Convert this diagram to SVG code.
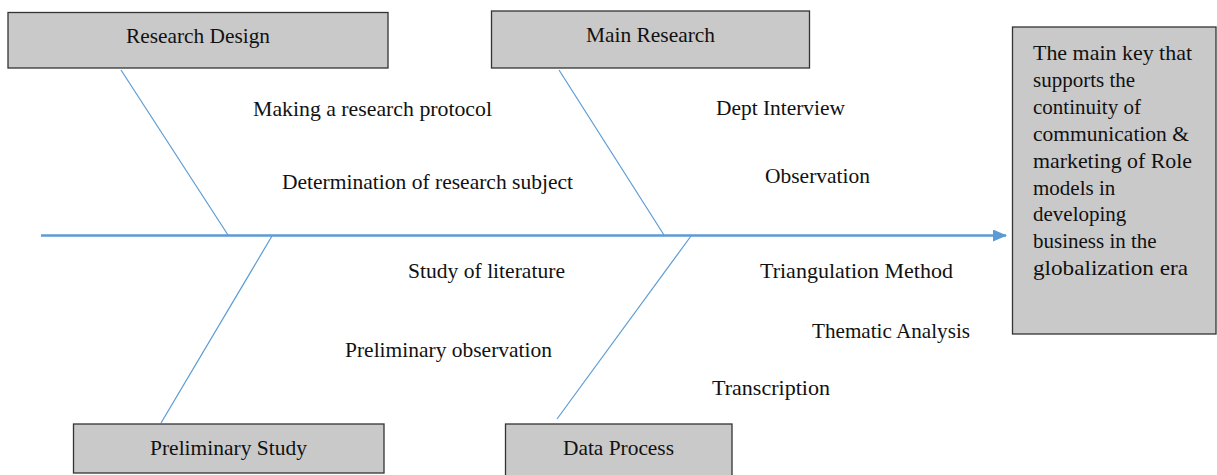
<svg xmlns="http://www.w3.org/2000/svg" width="1217" height="475" viewBox="0 0 1217 475">
<style>
.box{fill:#c9c9c9;stroke:#333;stroke-width:1.3}
.t{font-family:"Liberation Serif","Times New Roman",serif;font-size:21px;fill:#111}
.bone{stroke:#5b9bd5;stroke-width:1.2;fill:none}
.spine{stroke:#5b9bd5;stroke-width:2.5;fill:none}
</style>
<defs>
<marker id="ah" markerWidth="14" markerHeight="12" refX="13" refY="6" orient="auto" markerUnits="userSpaceOnUse">
<path d="M0,0 L14,6 L0,12 Z" fill="#5b9bd5"/>
</marker>
</defs>
<g id="connectors">
<line class="spine" x1="41" y1="235.5" x2="1006" y2="235.5" marker-end="url(#ah)"/>
<line class="bone" x1="121" y1="70" x2="228" y2="235"/>
<line class="bone" x1="559" y1="70" x2="664" y2="235"/>
<line class="bone" x1="272" y1="236" x2="161" y2="423"/>
<line class="bone" x1="691" y1="236" x2="557" y2="419"/>
</g>
<g id="research-design">
<rect class="box" x="8" y="12.5" width="380" height="55.5"/>
<text class="t" x="126" y="43" textLength="144" lengthAdjust="spacingAndGlyphs">Research Design</text>
</g>
<g id="main-research">
<rect class="box" x="491.5" y="11" width="318" height="57"/>
<text class="t" x="586" y="42" textLength="129" lengthAdjust="spacingAndGlyphs">Main Research</text>
</g>
<g id="preliminary-study">
<rect class="box" x="73.5" y="424" width="310.5" height="49"/>
<text class="t" x="150" y="455" textLength="157" lengthAdjust="spacingAndGlyphs">Preliminary Study</text>
</g>
<g id="data-process">
<rect class="box" x="505.5" y="424" width="226.5" height="60"/>
<text class="t" x="563" y="455" textLength="111" lengthAdjust="spacingAndGlyphs">Data Process</text>
</g>
<g id="outcome">
<rect class="box" x="1012.5" y="27" width="203.5" height="307"/>
<text class="t" x="1033" y="60" textLength="159" lengthAdjust="spacingAndGlyphs">The main key that</text>
<text class="t" x="1033" y="86.9">supports the</text>
<text class="t" x="1033" y="113.8">continuity of</text>
<text class="t" x="1033" y="140.7" textLength="156" lengthAdjust="spacingAndGlyphs">communication &amp;</text>
<text class="t" x="1033" y="167.6" textLength="159" lengthAdjust="spacingAndGlyphs">marketing of Role</text>
<text class="t" x="1033" y="194.5">models in</text>
<text class="t" x="1033" y="221.4">developing</text>
<text class="t" x="1033" y="248.3">business in the</text>
<text class="t" x="1033" y="275.2" textLength="155" lengthAdjust="spacingAndGlyphs">globalization era</text>
</g>
<g id="labels">
<text class="t" x="253" y="116" textLength="239" lengthAdjust="spacingAndGlyphs">Making a research protocol</text>
<text class="t" x="282" y="189" textLength="291" lengthAdjust="spacingAndGlyphs">Determination of research subject</text>
<text class="t" x="716" y="115" textLength="129" lengthAdjust="spacingAndGlyphs">Dept Interview</text>
<text class="t" x="765" y="183" textLength="105" lengthAdjust="spacingAndGlyphs">Observation</text>
<text class="t" x="408" y="278" textLength="157" lengthAdjust="spacingAndGlyphs">Study of literature</text>
<text class="t" x="345" y="357" textLength="207" lengthAdjust="spacingAndGlyphs">Preliminary observation</text>
<text class="t" x="760" y="278" textLength="193" lengthAdjust="spacingAndGlyphs">Triangulation Method</text>
<text class="t" x="812" y="338" textLength="158" lengthAdjust="spacingAndGlyphs">Thematic Analysis</text>
<text class="t" x="712" y="395" textLength="118" lengthAdjust="spacingAndGlyphs">Transcription</text>
</g>
</svg>
